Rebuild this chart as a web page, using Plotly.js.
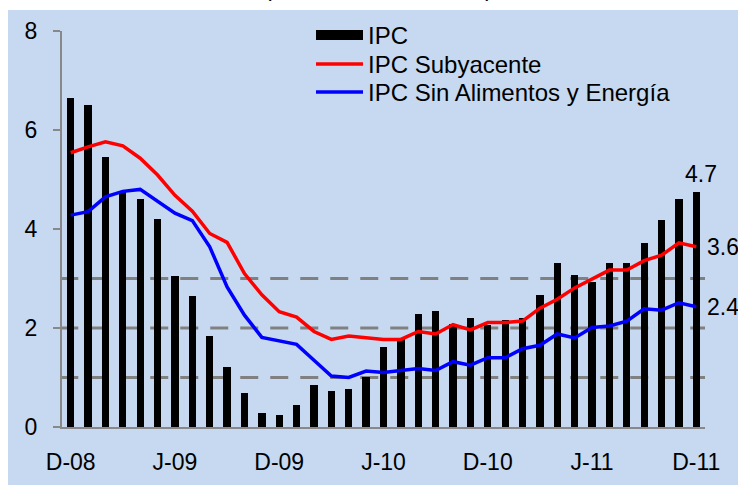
<!DOCTYPE html>
<html>
<head>
<meta charset="utf-8">
<script src="https://cdn.plot.ly/plotly-3.0.1.min.js"></script>
<style>
  html, body { margin: 0; padding: 0; background: #ffffff; }
  #chart { width: 738px; height: 485px; }
</style>
</head>
<body>
<div id="chart"></div>
<script>
// Monthly inflation, Dec 2008 – Dec 2011 (annual % change)
const tickIdx  = [0, 6, 12, 18, 24, 30, 36];
const tickText = ['D-08', 'J-09', 'D-09', 'J-10', 'D-10', 'J-11', 'D-11'];

const ipc = [6.65, 6.50, 5.45, 4.75, 4.60, 4.20, 3.06, 2.65, 1.84, 1.21, 0.69, 0.29,
             0.25, 0.44, 0.84, 0.73, 0.76, 1.02, 1.61, 1.78, 2.28, 2.35, 2.09, 2.21,
             2.06, 2.17, 2.21, 2.66, 3.32, 3.07, 2.92, 3.32, 3.32, 3.72, 4.18, 4.60, 4.74];

const subyacente = [5.54, 5.66, 5.76, 5.68, 5.43, 5.09, 4.68, 4.36, 3.91, 3.73, 3.10, 2.67,
                    2.33, 2.22, 1.93, 1.77, 1.84, 1.81, 1.77, 1.77, 1.93, 1.88, 2.07, 1.96,
                    2.11, 2.11, 2.14, 2.40, 2.58, 2.81, 2.99, 3.17, 3.17, 3.36, 3.47, 3.72, 3.64];

const sinAlimEnergia = [4.28, 4.35, 4.65, 4.76, 4.80, 4.57, 4.32, 4.17, 3.64, 2.83, 2.26, 1.81,
                        1.74, 1.67, 1.35, 1.03, 1.00, 1.13, 1.10, 1.14, 1.18, 1.14, 1.32, 1.25,
                        1.40, 1.40, 1.58, 1.65, 1.88, 1.80, 2.01, 2.04, 2.14, 2.39, 2.36, 2.51, 2.43];

// Target range reference levels
const bandLevels = [1, 2, 3];

const xs = ipc.map((_, i) => i);
const last = ipc.length - 1;
const FONT = 'Liberation Sans, Arial, sans-serif';
const BG = '#C6D9F0';
const AXIS = '#888888';
const TXT = { family: FONT, size: 23, color: '#000' };
const LEG_TXT = { family: FONT, size: 24, color: '#000' };

const traces = [
  { type: 'bar', name: 'IPC', x: xs, y: ipc, width: 0.42, showlegend: false,
    marker: { color: '#000000', line: { width: 0 } } },
  // wide legend key for the bars
  { type: 'scatter', mode: 'lines', name: 'IPC', x: [null], y: [null], legend: 'legend',
    line: { color: '#000000', width: 12 }, hoverinfo: 'skip' },
  { type: 'scatter', mode: 'lines', name: 'IPC Subyacente', x: xs, y: subyacente, legend: 'legend2',
    line: { color: '#FF0000', width: 3.5 } },
  { type: 'scatter', mode: 'lines', name: 'IPC Sin Alimentos y Energía', x: xs, y: sinAlimEnergia,
    legend: 'legend3', line: { color: '#0000FF', width: 3.5 } }
];

const shapes = [
  // panel background
  { type: 'rect', xref: 'paper', yref: 'paper', layer: 'below',
    x0: (8 - 62) / 643, x1: 1.2, y0: -0.3, y1: (427 - 10) / 396,
    fillcolor: BG, line: { width: 0 } }
].concat(bandLevels.map(v => ({
  type: 'line', xref: 'x', yref: 'y', layer: 'below',
  x0: -0.6, x1: 36.5, y0: v, y1: v,
  line: { color: '#808080', width: 3, dash: '18px,12px' }
})));

const annotations = [
  { xref: 'paper', yref: 'paper', x: (378 - 62) / 643, y: (427 - 3) / 396,
    xanchor: 'center', yanchor: 'bottom', showarrow: false,
    text: '(variación anual en %)', font: TXT },
  { x: last, y: ipc[last], xanchor: 'center', yanchor: 'bottom', yshift: 3, xshift: 5,
    showarrow: false, text: ipc[last].toFixed(1), font: TXT },
  { x: last, y: subyacente[last], xanchor: 'left', yanchor: 'middle', xshift: 9,
    showarrow: false, text: subyacente[last].toFixed(1), font: TXT },
  { x: last, y: sinAlimEnergia[last], xanchor: 'left', yanchor: 'middle', xshift: 9,
    showarrow: false, text: sinAlimEnergia[last].toFixed(1), font: TXT }
];

function legendAt(topPx) {
  return {
    x: (311 - 62) / 643, y: (427 - topPx) / 396, xanchor: 'left', yanchor: 'top',
    bgcolor: 'rgba(0,0,0,0)', borderwidth: 0, font: LEG_TXT, itemwidth: 47
  };
}

const layout = {
  width: 738, height: 485,
  margin: { l: 62, r: 33, t: 31, b: 58, pad: 0 },
  paper_bgcolor: '#ffffff',
  plot_bgcolor: 'rgba(0,0,0,0)',
  font: TXT,
  showlegend: true,
  legend: legendAt(13),
  legend2: legendAt(42),
  legend3: legendAt(70),
  xaxis: {
    range: [-0.5, 36.5], showgrid: false, zeroline: false,
    tickmode: 'array', tickvals: tickIdx, ticktext: tickText,
    ticks: '', showline: true, linecolor: AXIS, linewidth: 2,
    ticklabelstandoff: 13, tickfont: TXT
  },
  yaxis: {
    range: [0, 8], showgrid: false, zeroline: false,
    tickmode: 'array', tickvals: [0, 2, 4, 6, 8],
    ticks: 'outside', ticklen: 7, tickwidth: 2, tickcolor: AXIS,
    showline: true, linecolor: AXIS, linewidth: 2,
    ticklabelstandoff: 11, tickfont: TXT
  },
  shapes: shapes,
  annotations: annotations,
  bargap: 0
};

Plotly.newPlot('chart', traces, layout, { displayModeBar: false, staticPlot: true });
</script>
</body>
</html>
